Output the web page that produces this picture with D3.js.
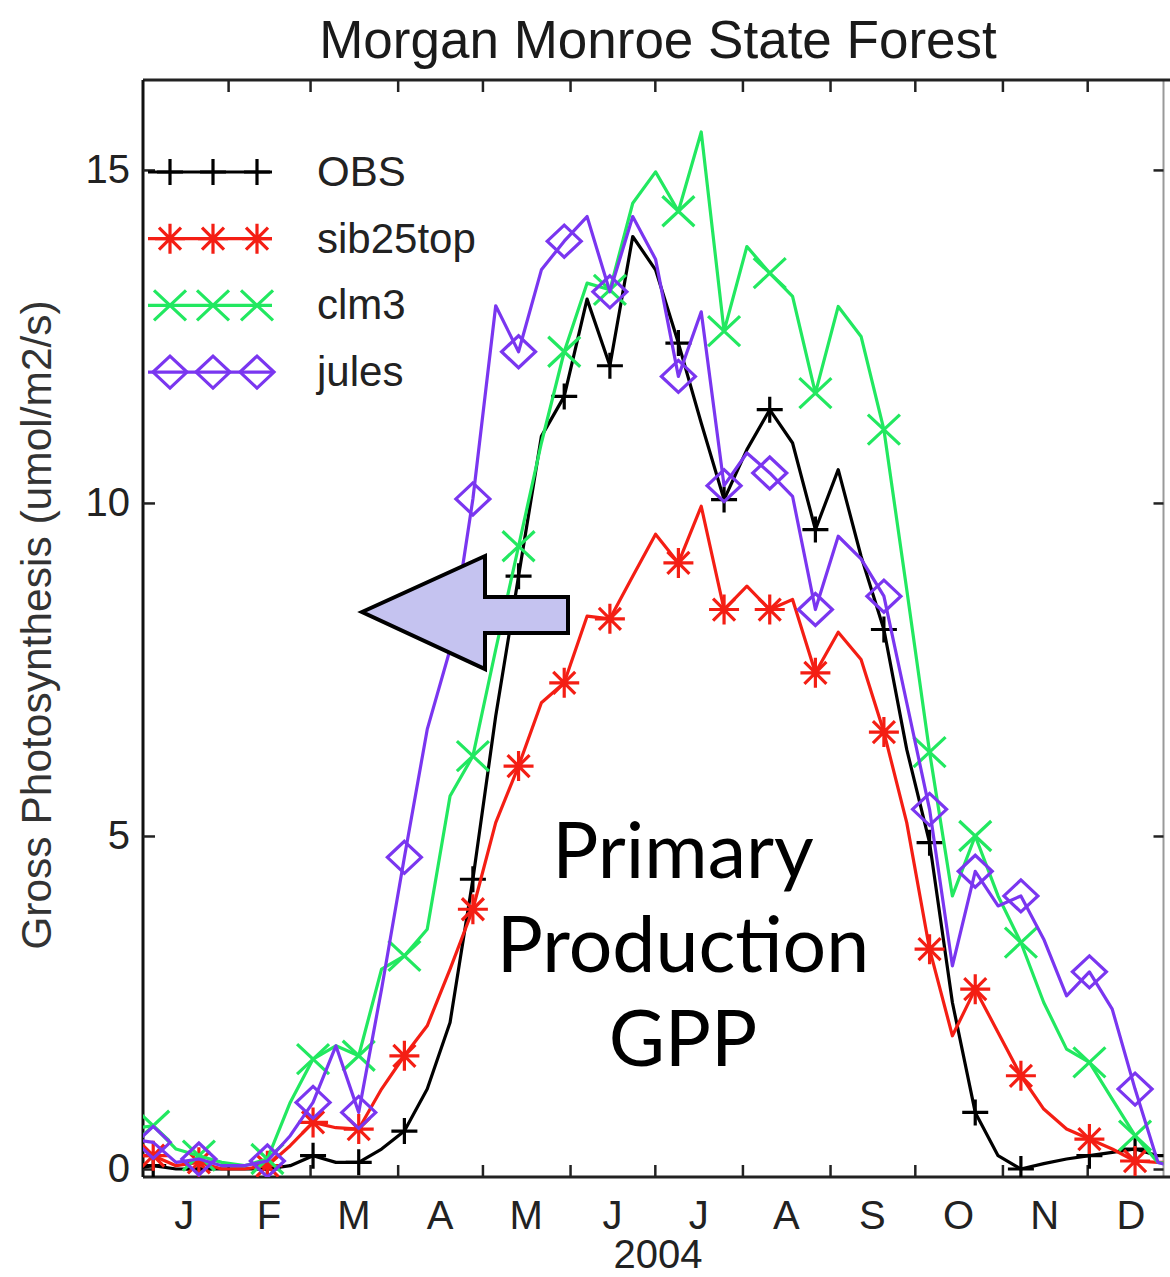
<!DOCTYPE html>
<html>
<head>
<meta charset="utf-8">
<script src="https://cdn.jsdelivr.net/npm/d3@7"></script>
<style>
  body { margin: 0; background: #fff; }
  svg { display: block; }
  text { font-family: "Liberation Sans", Arial, Helvetica, sans-serif; }
</style>
</head>
<body>
<svg id="chart" width="1170" height="1277"></svg>
<script>
// 8-day composites, 2004 (one extra point before Jan 1, clipped by the frame)
var nPoints = 47
var days = d3.range(nPoints).map(function(i) { return -3.58 + 8.08 * i })
var markerIdx = [1, 3, 6, 8, 10, 12, 15, 17, 19, 21, 24, 26, 28, 30, 33, 35, 37, 39, 42, 44]

var monthLabels = ['J', 'F', 'M', 'A', 'M', 'J', 'J', 'A', 'S', 'O', 'N', 'D']
var yTicks = [0, 5, 10, 15]

var obs = [0.0, 0.05, 0, 0, 0, 0, 0, 0.05, 0.2, 0.1, 0.1, 0.3, 0.57, 1.2, 2.2, 4.35, 6.8, 8.9,
  11.0, 11.6, 13.06, 12.06, 14.0, 13.5, 12.4, 11.2, 10.05, 10.8, 11.4, 10.9, 9.6, 10.5, 9.2, 8.1,
  6.3, 4.9, 2.5, 0.85, 0.2, 0.0, 0.08, 0.15, 0.2, 0.25, 0.3, 0.2, 0.2]
var sib25top = [0.2, 0.2, 0.05, 0.1, 0.0, 0.0, 0.05, 0.35, 0.7, 0.62, 0.6, 1.2, 1.7, 2.15, 3.0, 3.9, 5.2, 6.05,
  7.0, 7.3, 8.3, 8.26, 8.9, 9.53, 9.1, 9.95, 8.4, 8.75, 8.4, 8.55, 7.45, 8.06, 7.65, 6.56,
  5.2, 3.3, 2.0, 2.7, 2.05, 1.4, 0.9, 0.6, 0.45, 0.3, 0.12, 0.1, 0.1]
var clm3 = [0.6, 0.65, 0.3, 0.2, 0.1, 0.05, 0.15, 1.0, 1.65, 1.85, 1.7, 3.0, 3.2, 3.6, 5.6, 6.2, 7.8, 9.35,
  10.9, 12.27, 13.3, 13.2, 14.5, 14.97, 14.38, 15.57, 12.58, 13.85, 13.45, 13.1, 11.65, 12.95, 12.5, 11.1,
  8.7, 6.26, 4.1, 5.0, 4.1, 3.4, 2.5, 1.8, 1.6, 1.05, 0.5, 0.1, 0.05]
var jules = [0.45, 0.4, 0.1, 0.15, 0.05, 0.05, 0.12, 0.5, 1.0, 1.85, 0.85, 2.7, 4.68, 6.6, 7.8, 10.06, 12.96, 12.27,
  13.5, 13.93, 14.3, 13.17, 14.3, 13.66, 11.9, 12.87, 10.26, 10.75, 10.45, 10.1, 8.4, 9.5, 9.16, 8.6,
  7.0, 5.4, 3.05, 4.47, 3.95, 4.1, 3.45, 2.6, 2.96, 2.4, 1.2, 0.1, 0.0]

var seriesNames = ['OBS', 'sib25top', 'clm3', 'jules']
var seriesValues = [obs, sib25top, clm3, jules]
var seriesColors = ['#000000', '#f41e14', '#22e860', '#7a36f0']
var seriesMarkers = ['plus', 'star', 'cross', 'diamond']

//
// Layout
//
var plotLeft = 143, plotRight = 1163.5, plotTop = 80, plotBottom = 1177
var t0 = Date.UTC(2004, 0, 1)
function dayDate(d) { return new Date(t0 + d * 86400000) }

var svg = d3.select('#chart')
var x = d3.scaleUtc().domain([dayDate(0), dayDate(362)]).range([140.5, 1163.5])
var y = d3.scaleLinear().domain([-0.12, 16.35]).range([plotBottom, plotTop])

var markerPaths = {
  plus: 'M-13,0H13M0,-13V13',
  cross: 'M-16,-15L16,15M-16,15L16,-15',
  star: 'M-15,0H15M0,-15V15M-11,-11L11,11M-11,11L11,-11',
  diamond: 'M0,-16L17,0L0,16L-17,0Z'
}

svg.append('rect').attr('width', 1170).attr('height', 1277).attr('fill', '#fff')

svg.append('defs').append('clipPath').attr('id', 'plotclip')
  .append('rect').attr('x', plotLeft).attr('y', plotTop)
  .attr('width', plotRight - plotLeft).attr('height', plotBottom - plotTop)

// title
svg.append('text').attr('x', 658).attr('y', 58).attr('text-anchor', 'middle')
  .attr('font-size', 53).attr('fill', '#1a1a1a').text('Morgan Monroe State Forest')

// frame
svg.append('line').attr('x1', plotRight).attr('x2', plotRight).attr('y1', plotTop).attr('y2', plotBottom)
  .attr('stroke', '#999').attr('stroke-width', 2)
svg.append('line').attr('x1', plotLeft).attr('x2', 1170).attr('y1', plotTop).attr('y2', plotTop)
  .attr('stroke', '#222').attr('stroke-width', 3)
svg.append('line').attr('x1', plotLeft).attr('x2', 1170).attr('y1', plotBottom).attr('y2', plotBottom)
  .attr('stroke', '#222').attr('stroke-width', 3)
svg.append('line').attr('x1', plotLeft).attr('x2', plotLeft).attr('y1', plotTop).attr('y2', plotBottom)
  .attr('stroke', '#111').attr('stroke-width', 3)

// axes (ticks point inward)
var monthTicks = d3.utcMonth.range(dayDate(20), dayDate(362))
var xb = svg.append('g').attr('transform', 'translate(0,' + plotBottom + ')')
  .call(d3.axisBottom(x).tickValues(monthTicks).tickSize(-12).tickSizeOuter(0).tickFormat(''))
var xt = svg.append('g').attr('transform', 'translate(0,' + plotTop + ')')
  .call(d3.axisTop(x).tickValues(monthTicks).tickSize(-12).tickSizeOuter(0).tickFormat(''))
var yl = svg.append('g').attr('transform', 'translate(' + plotLeft + ',0)')
  .call(d3.axisLeft(y).tickValues(yTicks).tickSize(-12).tickSizeOuter(0).tickPadding(13))
var yr = svg.append('g').attr('transform', 'translate(' + plotRight + ',0)')
  .call(d3.axisRight(y).tickValues(yTicks).tickSize(-10).tickSizeOuter(0).tickFormat(''))
;[xb, xt, yl, yr].forEach(function(g) {
  g.select('.domain').remove()
  g.selectAll('.tick line').attr('stroke', '#222').attr('stroke-width', 2.5)
})
yl.selectAll('.tick text').attr('font-size', 40).attr('fill', '#222')
  .attr('font-family', '"Liberation Sans", Arial, sans-serif')

// month labels at mid-month
svg.append('g').selectAll('text').data(monthLabels).enter().append('text')
  .attr('x', function(d, i) {
    var a = Date.UTC(2004, i, 1), b = Date.UTC(2004, i + 1, 1)
    return x(new Date((a + b) / 2))
  })
  .attr('y', 1229).attr('text-anchor', 'middle').attr('font-size', 40).attr('fill', '#222')
  .text(function(d) { return d })

svg.append('text').attr('x', 658).attr('y', 1268).attr('text-anchor', 'middle')
  .attr('font-size', 40).attr('fill', '#222').text('2004')

svg.append('text').attr('transform', 'translate(51,625) rotate(-90)').attr('text-anchor', 'middle')
  .attr('font-size', 42.5).attr('fill', '#333').text('Gross Photosynthesis (umol/m2/s)')

// series
var plot = svg.append('g').attr('clip-path', 'url(#plotclip)')
var line = d3.line()
  .x(function(d) { return x(dayDate(d[0])) })
  .y(function(d) { return y(d[1]) })

seriesValues.forEach(function(vals, s) {
  var pts = days.map(function(d, i) { return [d, vals[i]] })
  plot.append('path').datum(pts).attr('d', line)
    .attr('fill', 'none').attr('stroke', seriesColors[s]).attr('stroke-width', 3.2)
    .attr('stroke-linejoin', 'round')
  plot.append('g').selectAll('path').data(markerIdx.map(function(i) { return pts[i] }))
    .enter().append('path')
    .attr('transform', function(d) { return 'translate(' + x(dayDate(d[0])) + ',' + y(d[1]) + ')' })
    .attr('d', markerPaths[seriesMarkers[s]])
    .attr('fill', 'none').attr('stroke', seriesColors[s]).attr('stroke-width', 3.2)
})

// legend
var legend = svg.append('g')
seriesNames.forEach(function(name, s) {
  var ly = 172 + s * 66.7
  legend.append('line').attr('x1', 148).attr('x2', 272).attr('y1', ly).attr('y2', ly)
    .attr('stroke', seriesColors[s]).attr('stroke-width', 3.2)
  ;[170, 213, 257].forEach(function(mx) {
    legend.append('path').attr('transform', 'translate(' + mx + ',' + ly + ')')
      .attr('d', markerPaths[seriesMarkers[s]])
      .attr('fill', 'none').attr('stroke', seriesColors[s]).attr('stroke-width', 3.2)
  })
  legend.append('text').attr('x', 317).attr('y', ly + 14).attr('font-size', 42)
    .attr('fill', '#222').text(name)
})

// annotation arrow
var arrow = [[362, 612], [485, 556], [485, 597], [568, 597], [568, 633], [485, 633], [485, 669]]
svg.append('path').attr('d', d3.line()(arrow) + 'Z')
  .attr('fill', '#c5c3f0').attr('stroke', '#000').attr('stroke-width', 4)
  .attr('stroke-linejoin', 'miter')

var noteLines = ['Primary', 'Production', 'GPP']
svg.append('g').selectAll('text').data(noteLines).enter().append('text')
  .attr('x', 683).attr('y', function(d, i) { return 878 + i * 94 })
  .attr('text-anchor', 'middle').attr('font-size', 77).attr('fill', '#000')
  .style('font-family', 'Lato, "Open Sans", sans-serif')
  .text(function(d) { return d })
</script>
</body>
</html>
